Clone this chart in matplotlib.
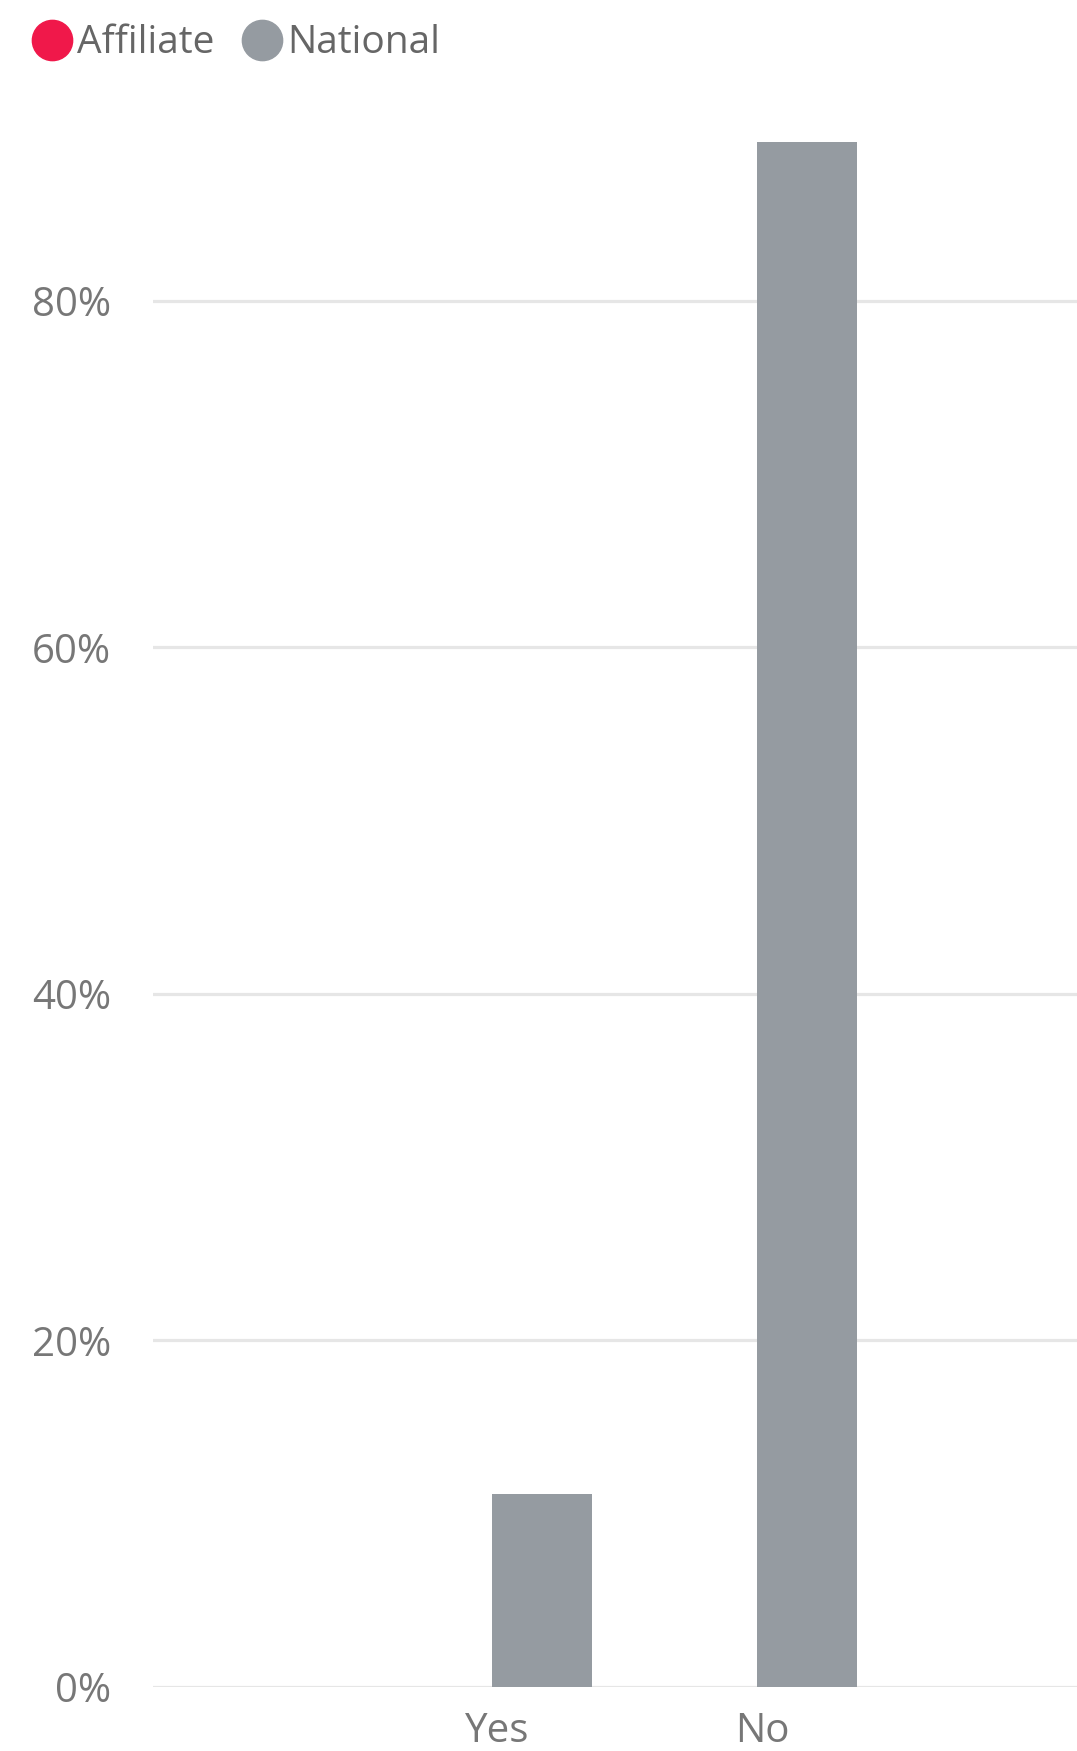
import numpy as np
import matplotlib
matplotlib.use("Agg")
import matplotlib.pyplot as plt
from matplotlib.lines import Line2D

plt.rcParams['font.family'] = ['Open Sans', 'DejaVu Sans']

categories = ['Yes', 'No']
affiliate = [0.0, 0.0]
national = [11.1, 89.2]
yticks = [0, 20, 40, 60, 80]
series_names = ['Affiliate', 'National']
colors = ['#f0184a', '#959ba1']

W, H = 1077, 1751
fig = plt.figure(figsize=(W / 100, H / 100), dpi=100)

# axes placed in pixel terms of the reference
left_px, right_px = 153, 1077
bottom_px = 1686.7
px_per_pct = 17.32
ytop = 92
top_px = bottom_px - ytop * px_per_pct
ax = fig.add_axes([left_px / W, (H - bottom_px) / H,
                   (right_px - left_px) / W, (bottom_px - top_px) / H])

x = np.arange(len(categories))
bw = 0.38
ax.bar(x - bw / 2, affiliate, bw, color=colors[0], zorder=2)
ax.bar(x + bw / 2, national, bw, color=colors[1], zorder=2)

ax.set_xlim(-1.278, 2.209)
ax.set_ylim(0, ytop)
ax.set_yticks(yticks)
ax.set_yticklabels([f'{v}%' for v in yticks])
ax.set_xticks(x + 0.02)
ax.set_xticklabels(categories)
ax.grid(axis='y', color='#e6e6e6', linewidth=2.3, zorder=0)
ax.tick_params(axis='both', length=0, labelsize=29, colors='#777777')
ax.tick_params(axis='y', pad=30)
ax.tick_params(axis='x', pad=17.5)
for s in ax.spines.values():
    s.set_visible(False)

handles = [Line2D([], [], marker='o', ls='', color=c, markersize=29) for c in colors]
fig.legend(handles, series_names, loc='upper left', bbox_to_anchor=(-0.008, 1.006),
           ncol=2, frameon=False, fontsize=28, labelcolor='#666666',
           handletextpad=0.01, columnspacing=0.56, handlelength=1.3)

fig.savefig('out.png', dpi=100, facecolor='white')
